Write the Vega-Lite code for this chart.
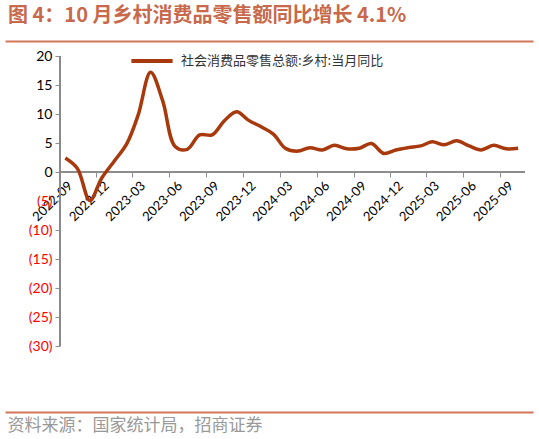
{
  "$schema": "https://vega.github.io/schema/vega-lite/v6.json",
  "width": 528,
  "height": 290,
  "autosize": "none",
  "padding": {"left": 5, "top": 56, "right": 6, "bottom": 93},
  "background": "white",
  "title": {
    "text": "图 4：10 月乡村消费品零售额同比增长 4.1%",
    "anchor": "start",
    "frame": "group",
    "dx": 3,
    "offset": 12,
    "font": "Noto Sans CJK SC",
    "fontSize": 20,
    "fontWeight": "bold",
    "color": "#C8694B"
  },
  "config": {
    "view": {"stroke": null},
    "font": "Lato",
    "axis": {"grid": false}
  },
  "data": {
    "values": [
      {"month": "2022-09-15", "series": "社会消费品零售总额:乡村:当月同比", "value": 2.4},
      {"month": "2022-10-15", "series": "社会消费品零售总额:乡村:当月同比", "value": 0.6},
      {"month": "2022-11-15", "series": "社会消费品零售总额:乡村:当月同比", "value": -4.9},
      {"month": "2022-12-15", "series": "社会消费品零售总额:乡村:当月同比", "value": -1.0},
      {"month": "2023-01-15", "series": "社会消费品零售总额:乡村:当月同比", "value": 1.9},
      {"month": "2023-02-15", "series": "社会消费品零售总额:乡村:当月同比", "value": 4.9},
      {"month": "2023-03-15", "series": "社会消费品零售总额:乡村:当月同比", "value": 9.8},
      {"month": "2023-04-15", "series": "社会消费品零售总额:乡村:当月同比", "value": 17.2},
      {"month": "2023-05-15", "series": "社会消费品零售总额:乡村:当月同比", "value": 12.3},
      {"month": "2023-06-15", "series": "社会消费品零售总额:乡村:当月同比", "value": 4.4},
      {"month": "2023-07-15", "series": "社会消费品零售总额:乡村:当月同比", "value": 3.9},
      {"month": "2023-08-15", "series": "社会消费品零售总额:乡村:当月同比", "value": 6.4},
      {"month": "2023-09-15", "series": "社会消费品零售总额:乡村:当月同比", "value": 6.4},
      {"month": "2023-10-15", "series": "社会消费品零售总额:乡村:当月同比", "value": 8.8},
      {"month": "2023-11-15", "series": "社会消费品零售总额:乡村:当月同比", "value": 10.4},
      {"month": "2023-12-15", "series": "社会消费品零售总额:乡村:当月同比", "value": 8.9},
      {"month": "2024-01-15", "series": "社会消费品零售总额:乡村:当月同比", "value": 7.8},
      {"month": "2024-02-15", "series": "社会消费品零售总额:乡村:当月同比", "value": 6.5},
      {"month": "2024-03-15", "series": "社会消费品零售总额:乡村:当月同比", "value": 4.1},
      {"month": "2024-04-15", "series": "社会消费品零售总额:乡村:当月同比", "value": 3.6},
      {"month": "2024-05-15", "series": "社会消费品零售总额:乡村:当月同比", "value": 4.2},
      {"month": "2024-06-15", "series": "社会消费品零售总额:乡村:当月同比", "value": 3.8},
      {"month": "2024-07-15", "series": "社会消费品零售总额:乡村:当月同比", "value": 4.6},
      {"month": "2024-08-15", "series": "社会消费品零售总额:乡村:当月同比", "value": 4.0},
      {"month": "2024-09-15", "series": "社会消费品零售总额:乡村:当月同比", "value": 4.1},
      {"month": "2024-10-15", "series": "社会消费品零售总额:乡村:当月同比", "value": 4.9},
      {"month": "2024-11-15", "series": "社会消费品零售总额:乡村:当月同比", "value": 3.2},
      {"month": "2024-12-15", "series": "社会消费品零售总额:乡村:当月同比", "value": 3.8},
      {"month": "2025-01-15", "series": "社会消费品零售总额:乡村:当月同比", "value": 4.2},
      {"month": "2025-02-15", "series": "社会消费品零售总额:乡村:当月同比", "value": 4.5},
      {"month": "2025-03-15", "series": "社会消费品零售总额:乡村:当月同比", "value": 5.2},
      {"month": "2025-04-15", "series": "社会消费品零售总额:乡村:当月同比", "value": 4.7},
      {"month": "2025-05-15", "series": "社会消费品零售总额:乡村:当月同比", "value": 5.4},
      {"month": "2025-06-15", "series": "社会消费品零售总额:乡村:当月同比", "value": 4.5},
      {"month": "2025-07-15", "series": "社会消费品零售总额:乡村:当月同比", "value": 3.8},
      {"month": "2025-08-15", "series": "社会消费品零售总额:乡村:当月同比", "value": 4.6},
      {"month": "2025-09-15", "series": "社会消费品零售总额:乡村:当月同比", "value": 4.0},
      {"month": "2025-10-15", "series": "社会消费品零售总额:乡村:当月同比", "value": 4.1}
    ]
  },
  "layer": [
    {
      "mark": {"type": "rule", "color": "#8C8C8C", "strokeWidth": 1},
      "encoding": {
        "x": {
          "datum": {"year": 2022, "month": 9, "date": 1},
          "type": "temporal",
          "axis": {
            "orient": "top",
            "offset": 15,
            "domainColor": "#D0775C",
            "domainWidth": 2,
            "labels": false,
            "ticks": false,
            "title": null
          }
        },
        "x2": {"datum": {"year": 2025, "month": 11, "date": 1}},
        "y": {"datum": 0, "type": "quantitative", "axis": null}
      }
    },
    {
      "mark": {"type": "rule", "color": "#8C8C8C", "strokeWidth": 1},
      "encoding": {
        "x": {
          "datum": {"year": 2022, "month": 9, "date": 1},
          "type": "temporal",
          "axis": {
            "orient": "bottom",
            "offset": 66,
            "domainColor": "#D0775C",
            "domainWidth": 2,
            "labels": false,
            "ticks": false,
            "title": "资料来源：国家统计局，招商证券",
            "titleFont": "Noto Sans CJK SC",
            "titleFontSize": 17,
            "titleFontWeight": "normal",
            "titleColor": "#999999",
            "titleAnchor": "start",
            "titleAlign": "left",
            "titleBaseline": "middle",
            "titleX": 2,
            "titleY": 13
          }
        },
        "y": {"datum": 20, "type": "quantitative", "axis": null},
        "y2": {"datum": -30}
      }
    },
    {
      "mark": {"type": "line", "strokeWidth": 3.5, "interpolate": "catmull-rom"},
      "encoding": {
        "x": {
          "field": "month",
          "type": "temporal",
          "scale": {
            "domain": [
              {"year": 2022, "month": 4, "date": 18},
              {"year": 2025, "month": 11, "date": 21}
            ]
          },
          "axis": {
            "orient": "bottom",
            "offset": -174,
            "domain": false,
            "values": [
              {"year": 2022, "month": 9, "date": 1},
              {"year": 2022, "month": 12, "date": 1},
              {"year": 2023, "month": 3, "date": 1},
              {"year": 2023, "month": 6, "date": 1},
              {"year": 2023, "month": 9, "date": 1},
              {"year": 2023, "month": 12, "date": 1},
              {"year": 2024, "month": 3, "date": 1},
              {"year": 2024, "month": 6, "date": 1},
              {"year": 2024, "month": 9, "date": 1},
              {"year": 2024, "month": 12, "date": 1},
              {"year": 2025, "month": 3, "date": 1},
              {"year": 2025, "month": 6, "date": 1},
              {"year": 2025, "month": 9, "date": 1}
            ],
            "format": "%Y-%m",
            "labelAngle": -45,
            "labelFontSize": 13,
            "labelColor": "#000000",
            "labelOffset": 6,
            "labelPadding": 2,
            "labelOverlap": false,
            "labelFlush": false,
            "tickColor": "#8C8C8C",
            "tickSize": 5,
            "title": null
          }
        },
        "y": {
          "field": "value",
          "type": "quantitative",
          "scale": {"domain": [-30, 20], "nice": false, "zero": false},
          "axis": {
            "orient": "left",
            "offset": -55,
            "domain": false,
            "values": [-30, -25, -20, -15, -10, -5, 0, 5, 10, 15, 20],
            "labelExpr": "datum.value < 0 ? '(' + (-datum.value) + ')' : datum.value",
            "labelColor": {"condition": {"test": "datum.value < 0", "value": "#FF0000"}, "value": "#000000"},
            "labelFontSize": 14,
            "labelPadding": 3,
            "labelOverlap": false,
            "labelFlush": false,
            "tickColor": "#8C8C8C",
            "tickSize": 5,
            "title": null
          }
        },
        "color": {
          "field": "series",
          "type": "nominal",
          "scale": {"range": ["#A8390C"]},
          "legend": {
            "orient": "none",
            "legendX": 124,
            "legendY": -18,
            "title": null,
            "symbolType": "stroke",
            "symbolSize": 1700,
            "symbolStrokeWidth": 4,
            "labelFont": "Noto Sans CJK SC",
            "labelFontSize": 13,
            "labelColor": "#333333",
            "labelOffset": 6,
            "labelLimit": 400,
            "padding": 0
          }
        }
      }
    }
  ],
  "resolve": {"axis": {"x": "independent", "y": "independent"}}
}
